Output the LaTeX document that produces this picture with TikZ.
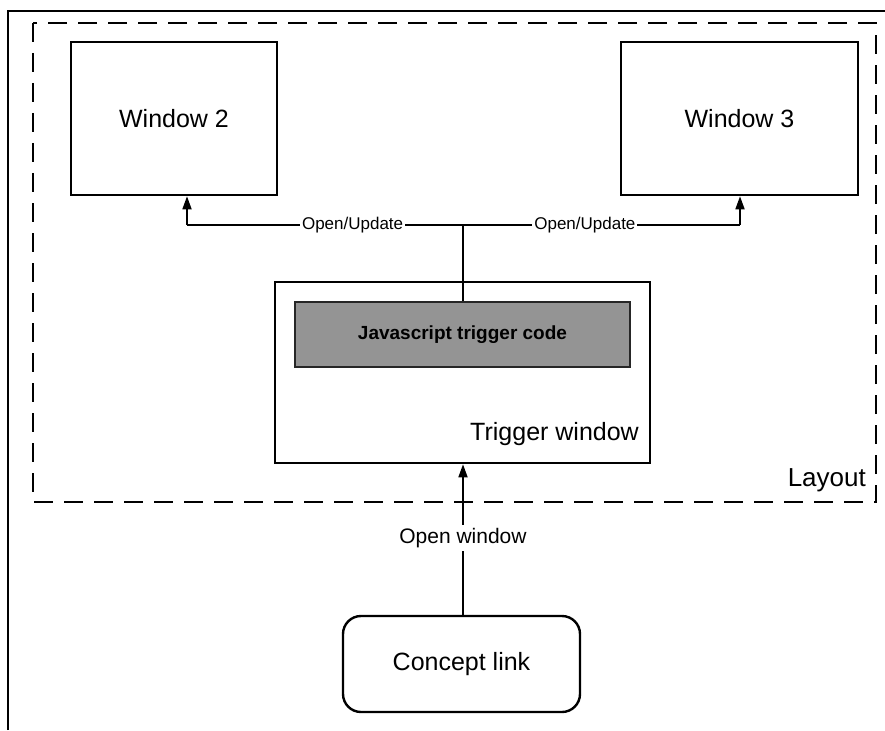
\documentclass[tikz,border=0pt]{standalone}
\usepackage{fontspec}
\setmainfont{Liberation Sans}
\usetikzlibrary{arrows.meta}
\begin{document}
\begin{tikzpicture}[x=1pt,y=-1pt,
  win/.style={draw,line width=2.6pt,rectangle,inner sep=0pt,font=\fontsize{25}{30}\selectfont},
  codebox/.style={draw=black!85,line width=2pt,fill=black!42,inner sep=0pt,font=\bfseries\fontsize{19}{23}\selectfont},
  linkbox/.style={draw,line width=2.4pt,rounded corners=18pt,inner sep=0pt,font=\fontsize{25}{30}\selectfont},
  conn/.style={line width=1.7pt},
  tip/.style={-{Triangle[length=13pt,width=9pt]}},
  lbl/.style={fill=white,inner sep=2pt,font=\fontsize{17}{20}\selectfont},
  biglbl/.style={fill=white,inner sep=3pt,font=\fontsize{21}{25}\selectfont},
  layoutline/.style={line width=2.6pt,dash pattern=on 19pt off 11pt},
  frame/.style={line width=2.8pt}
]
\useasboundingbox (0,0) rectangle (885,730);

% outer frame (only its top and left edges lie within the page)
\draw[frame] (8,730) -- (8,11) -- (885,11);

% dashed layout region
\draw[layoutline] (33,23) rectangle (876,502);
\node[anchor=east,inner sep=0pt,font=\fontsize{26}{30}\selectfont] (layout) at (866,480) {Layout};

% windows
\node[win,minimum width=206pt,minimum height=153pt] (w2) at (174,118.5) {Window 2};
\node[win,minimum width=237pt,minimum height=153pt] (w3) at (739.5,118.5) {Window 3};

% trigger window with its script block
\node[win,minimum width=375pt,minimum height=181pt] (trig) at (462.5,372.5) {};
\node[codebox,minimum width=335pt,minimum height=65pt] (js) at (462.5,334.5) {Javascript trigger code};
\node[anchor=east,inner sep=0pt,font=\fontsize{25}{30}\selectfont] (trigtxt) at (639,434) {Trigger window};

% concept link
\node[linkbox,minimum width=237pt,minimum height=96pt] (link) at (461.5,664) {Concept link};

% connectors
\coordinate (j) at (463,225);
\coordinate (jl) at (187,225);
\coordinate (jr) at (740,225);
\draw[conn] (js.north -| j) -- (j);
\draw[conn] (j) -- node[lbl,pos=0.4] (lu1) {Open/Update} (jl);
\draw[conn,tip] (jl) -- (jl |- w2.south);
\draw[conn] (j) -- node[lbl,pos=0.44] (lu2) {Open/Update} (jr);
\draw[conn,tip] (jr) -- (jr |- w3.south);
\draw[conn,tip] (link.north -| j) -- node[biglbl,pos=0.51] (ow) {Open window} (trig.south -| j);
\end{tikzpicture}
\end{document}
